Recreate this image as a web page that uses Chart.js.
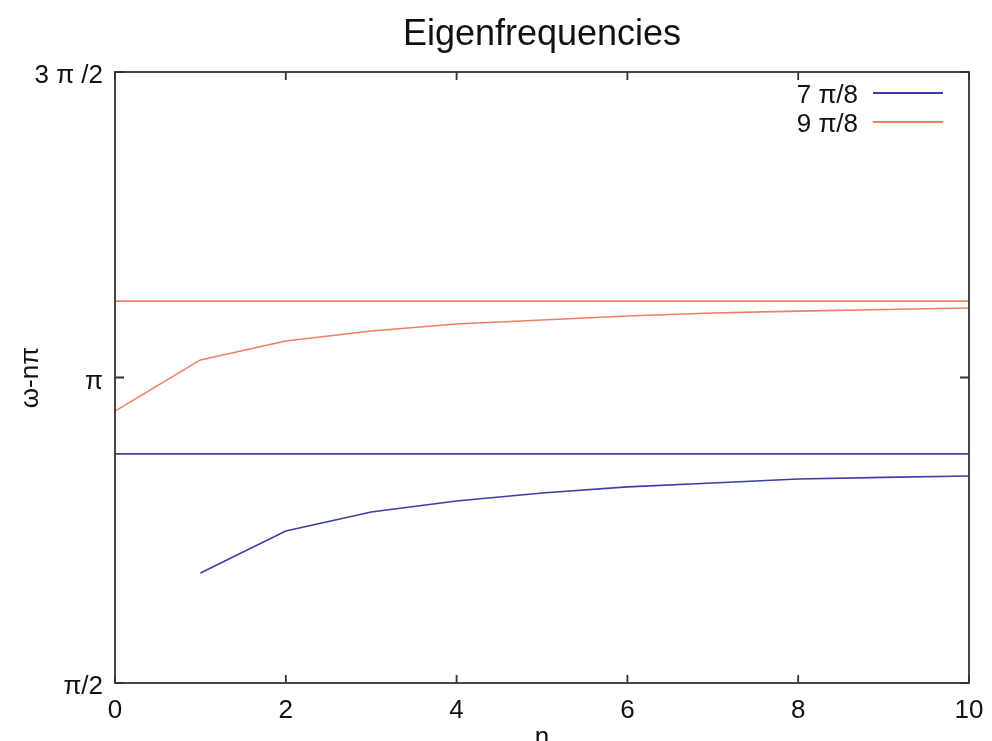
<!DOCTYPE html>
<html>
<head>
<meta charset="utf-8">
<script src="https://cdn.jsdelivr.net/npm/chart.js@4"></script>
<style>
  html, body { margin: 0; padding: 0; background: #fff; overflow: hidden; }
  #wrap { width: 992px; height: 760px; }
</style>
</head>
<body>
<div id="wrap"><canvas id="eigenChart" width="992" height="760"></canvas></div>
<script>
// data
const nValues = [0, 1, 2, 3, 4, 5, 6, 7, 8, 9, 10];
const lowerCurve = [null, 2.136, 2.352, 2.450, 2.507, 2.548, 2.579, 2.599, 2.620, 2.628, 2.635];
const upperCurve = [2.969, 3.232, 3.329, 3.381, 3.417, 3.437, 3.458, 3.473, 3.483, 3.491, 3.499];
const lineEnds = [0, 10];
const lowerLevel = [2.7489, 2.7489];   // 7 pi/8
const upperLevel = [3.5343, 3.5343];   // 9 pi/8
const levelLabels = ["7 π/8", "9 π/8"];
const yTickValues = [1.5708, 3.1416, 4.7124];
const yTickLabels = ["π/2", "π", "3 π /2"];
const xTickValues = [0, 2, 4, 6, 8, 10];
const chartTitle = "Eigenfrequencies";

const BLUE = "#3d3da6";
const RED = "#f07e62";
const FONT = "'Liberation Sans', Arial, Helvetica, sans-serif";

const pts = (xs, ys) => xs.map((x, i) => ({ x, y: ys[i] }));

// title over the plot box, frame, inward ticks on all four sides, gnuplot-style key
const framePlugin = {
    id: "frame",
    afterDatasetsDraw(chart) {
        const { ctx, chartArea: a, scales: { x, y } } = chart;
        ctx.save();

        ctx.fillStyle = "#111";
        ctx.font = "36px " + FONT;
        ctx.textAlign = "center";
        ctx.textBaseline = "alphabetic";
        ctx.fillText(chartTitle, (a.left + a.right) / 2, 45);

        ctx.strokeStyle = "#333";
        ctx.lineWidth = 1.8;
        ctx.strokeRect(a.left, a.top, a.right - a.left, a.bottom - a.top);
        ctx.beginPath();
        xTickValues.forEach(v => {
            const px = x.getPixelForValue(v);
            ctx.moveTo(px, a.bottom); ctx.lineTo(px, a.bottom - 8);
            ctx.moveTo(px, a.top); ctx.lineTo(px, a.top + 8);
        });
        yTickValues.forEach(v => {
            const py = y.getPixelForValue(v);
            ctx.moveTo(a.left, py); ctx.lineTo(a.left + 9, py);
            ctx.moveTo(a.right, py); ctx.lineTo(a.right - 9, py);
        });
        ctx.stroke();

        // key
        ctx.font = "26px " + FONT;
        ctx.textAlign = "right";
        ctx.textBaseline = "middle";
        chart.data.datasets.slice(0, 2).forEach((ds, i) => {
            const ky = 96 + i * 29;
            ctx.fillStyle = "#111";
            ctx.fillText(ds.label, 858, ky);
            ctx.strokeStyle = ds.borderColor;
            ctx.lineWidth = 1.8;
            ctx.beginPath();
            ctx.moveTo(873, ky - 3); ctx.lineTo(943, ky - 3);
            ctx.stroke();
        });
        ctx.restore();
    }
};

new Chart(document.getElementById("eigenChart"), {
    type: "line",
    data: {
        datasets: [
            { label: levelLabels[0], data: pts(lineEnds, lowerLevel), borderColor: BLUE, borderWidth: 1.8 },
            { label: levelLabels[1], data: pts(lineEnds, upperLevel), borderColor: RED, borderWidth: 1.8 },
            { label: "lower", data: pts(nValues, lowerCurve), borderColor: BLUE, borderWidth: 1.6 },
            { label: "upper", data: pts(nValues, upperCurve), borderColor: RED, borderWidth: 1.6 }
        ]
    },
    options: {
        responsive: false,
        animation: false,
        spanGaps: false,
        elements: { point: { radius: 0 }, line: { tension: 0 } },
        layout: { padding: { left: 0, right: 23, top: 72, bottom: 0 } },
        plugins: {
            legend: { display: false },
            tooltip: { enabled: false },
            title: { display: false }
        },
        scales: {
            x: {
                type: "linear",
                min: 0,
                max: 10,
                afterBuildTicks: s => { s.ticks = xTickValues.map(v => ({ value: v })); },
                afterFit: s => { s.height = 77; },
                grid: { display: false },
                border: { display: false },
                ticks: { color: "#111", padding: 4, font: { family: FONT, size: 26 }, maxRotation: 0 },
                title: {
                    display: true, text: "n", color: "#111",
                    font: { family: FONT, size: 26 }, padding: { top: 0, bottom: 7 }
                }
            },
            y: {
                type: "linear",
                min: 1.5708,
                max: 4.7124,
                afterBuildTicks: s => { s.ticks = yTickValues.map(v => ({ value: v })); },
                afterFit: s => { s.width = 115; },
                grid: { display: false },
                border: { display: false },
                ticks: {
                    color: "#111", padding: 4, labelOffset: 4, font: { family: FONT, size: 26 },
                    callback: v => yTickLabels[yTickValues.indexOf(v)]
                },
                title: {
                    display: true, text: "ω-nπ", color: "#111",
                    font: { family: FONT, size: 26 }, padding: { top: 15, bottom: 0 }
                }
            }
        }
    },
    plugins: [framePlugin]
});
</script>
</body>
</html>
